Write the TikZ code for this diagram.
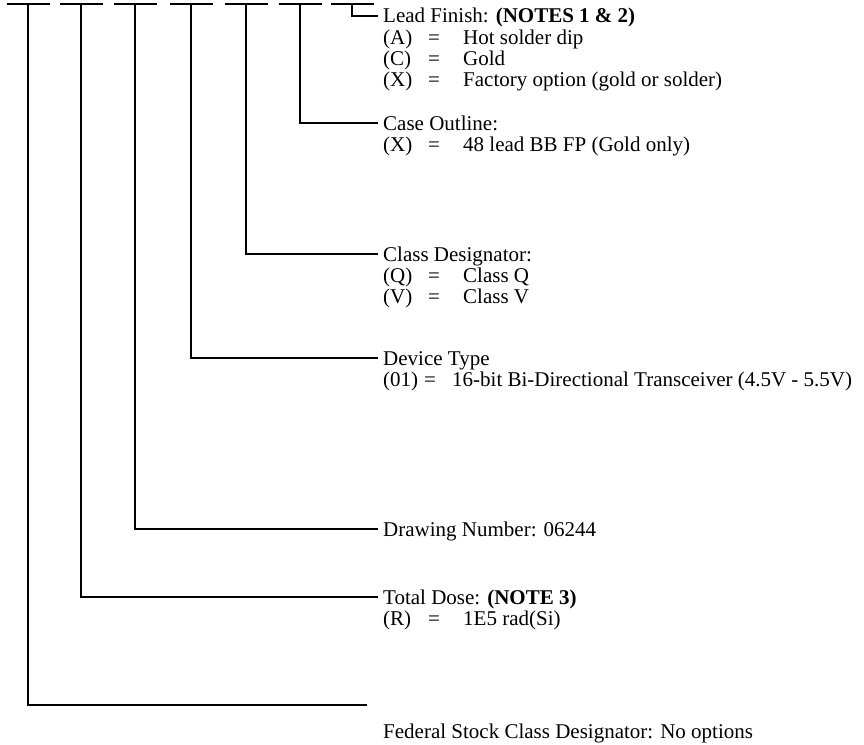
\documentclass[tikz,border=0pt]{standalone}
\usepackage{fontspec}
\setmainfont{Liberation Serif}
\usetikzlibrary{positioning}

\newcommand{\optline}[2]{\makebox[45pt][l]{#1}\makebox[35pt][l]{=}#2}
\newcommand{\firstln}{\rule{0pt}{17.5pt}}

\begin{document}
\begin{tikzpicture}[x=1pt,y=-1pt,
	every node/.style={font=\fontsize{21}{21}\selectfont},
	label/.style={anchor=west,inner xsep=5pt,inner ysep=0pt,text height=17.5pt,text depth=3.5pt},
	opts/.style={anchor=north west,inner xsep=5pt,inner ysep=0pt,align=left},
	lead/.style={line width=1.9pt},
	dashline/.style={line width=2.6pt}]
		\useasboundingbox (0,0) rectangle (864,744);
		% blanks of the part number
		\foreach \i/\x in {1/28,2/81,3/135,4/191,5/246,6/300,7/352} {
			\draw[dashline] (\x-21.5,4) -- (\x+21.5,4);
			\coordinate (d\i) at (\x,4);
		}
		
		\node[label] (finish) at (378,16) {Lead Finish: \textbf{(NOTES 1 \& 2)}};
		\node[opts] (finishopt) at (finish.south west) {\firstln\optline{(A)}{Hot solder dip}\\ \optline{(C)}{Gold}\\ \optline{(X)}{Factory option (gold or solder)}};
		\draw[lead] (d7) |- (finish.west);
		
		\node[label] (outline) at (378,123) {Case Outline:};
		\node[opts] (outlineopt) at (outline.south west) {\firstln\optline{(X)}{48 lead BB FP (Gold only)}};
		\draw[lead] (d6) |- (outline.west);
		
		\node[label] (class) at (378,254) {Class Designator:};
		\node[opts] (classopt) at (class.south west) {\firstln\optline{(Q)}{Class Q}\\ \optline{(V)}{Class V}};
		\draw[lead] (d5) |- (class.west);
		
		\node[label] (device) at (378,358) {Device Type};
		\node[opts] (deviceopt) at (device.south west) {\firstln\makebox[41pt][l]{(01)}\makebox[28pt][l]{=}16-bit Bi-Directional Transceiver (4.5V - 5.5V)};
		\draw[lead] (d4) |- (device.west);
		
		\node[label] (drawing) at (378,529) {Drawing Number: 06244};
		\draw[lead] (d3) |- (drawing.west);
		
		\node[label] (dose) at (378,597) {Total Dose: \textbf{(NOTE 3)}};
		\node[opts] (doseopt) at (dose.south west) {\firstln\optline{(R)}{1E5 rad(Si)}};
		\draw[lead] (d2) |- (dose.west);
		
		\coordinate (fscend) at (367,705);
		\node[label] (fsc) at (378,731) {Federal Stock Class Designator: No options};
		\draw[line width=2.8pt] (d1) |- (fscend);
	\end{tikzpicture}
\end{document}
